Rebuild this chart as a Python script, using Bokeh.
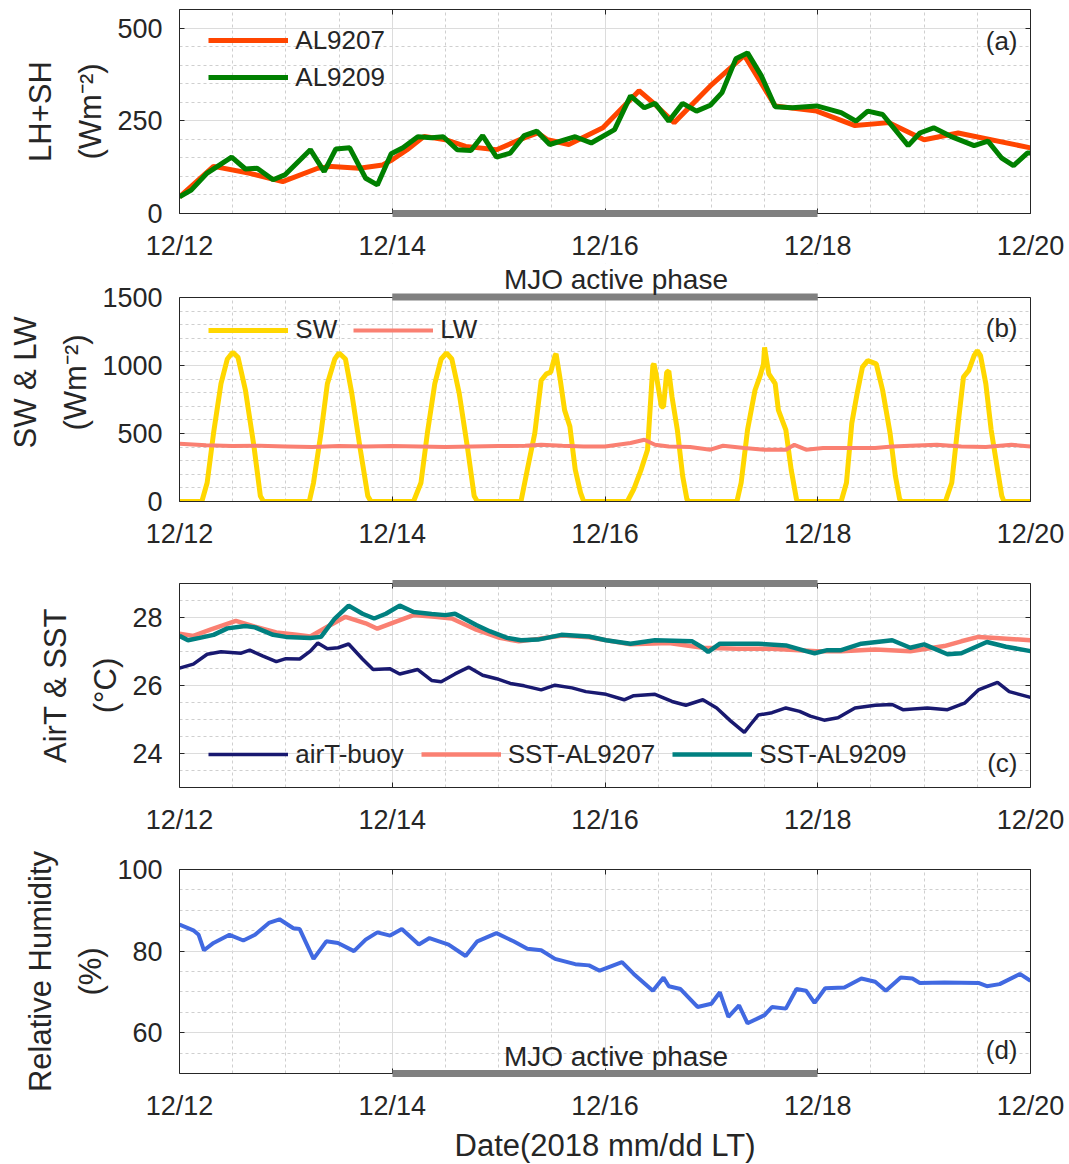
from bokeh.plotting import figure
from bokeh.models import (FixedTicker, LinearAxis, Legend, LegendItem, Label, Range1d,
                          BoxAnnotation, Span)
from bokeh.layouts import column
from bokeh.embed import file_html
from bokeh.resources import INLINE

# ---------------- data (days after 2018-12-12 00:00 LT) ----------------
date_tick_days = [0, 2, 4, 6, 8]
date_tick_labels = ["12/12", "12/14", "12/16", "12/18", "12/20"]
mjo_start_day, mjo_end_day = 2, 6

# (a) LH+SH (W m-2)
al9207_day = [0, 0.32, 0.65, 0.97, 1.30, 1.43, 1.69, 1.91, 2.0, 2.14, 2.30, 2.50, 2.69,
              2.98, 3.24, 3.37, 3.46, 3.66, 3.98, 4.32, 4.47, 4.65, 4.99, 5.31, 5.60,
              5.99, 6.35, 6.67, 7.0, 7.32, 8.0]
al9207_flux = [45, 127, 109, 86, 122, 127, 122, 131, 145, 172, 208, 199, 181,
               172, 204, 217, 199, 186, 231, 331, 294, 245, 344, 426, 290,
               276, 237, 245, 199, 217, 177]
al9209_day = [0, 0.11, 0.26, 0.49, 0.62, 0.73, 0.88, 0.99, 1.23, 1.36, 1.47, 1.60, 1.75,
              1.86, 1.99, 2.10, 2.24, 2.37, 2.48, 2.61, 2.74, 2.85, 2.98, 3.11, 3.24,
              3.36, 3.48, 3.72, 3.87, 4.09, 4.24, 4.37, 4.47, 4.60, 4.73, 4.86, 4.99,
              5.10, 5.23, 5.34, 5.47, 5.60, 5.76, 5.99, 6.22, 6.36, 6.47, 6.61, 6.85,
              6.96, 7.09, 7.25, 7.47, 7.60, 7.73, 7.84, 7.97, 8.0]
al9209_flux = [45, 63, 109, 152, 120, 122, 91, 104, 172, 113, 174, 177, 95,
               77, 161, 177, 207, 204, 207, 172, 170, 210, 152, 163, 210,
               222, 186, 207, 190, 226, 317, 285, 297, 249, 297, 276, 292,
               326, 417, 433, 371, 288, 285, 290, 272, 249, 276, 267, 183,
               217, 231, 208, 183, 195, 149, 129, 163, 163]

# (b) shortwave and longwave (W m-2)
sw_day = [0, 0.21, 0.26, 0.32, 0.39, 0.45, 0.50, 0.55, 0.62, 0.70, 0.76, 0.79,
          1.22, 1.26, 1.33, 1.39, 1.46, 1.50, 1.56, 1.62, 1.70, 1.77, 1.80,
          2.20, 2.27, 2.33, 2.40, 2.46, 2.51, 2.56, 2.63, 2.71, 2.77, 2.80,
          3.21, 3.27, 3.34, 3.40, 3.45, 3.49, 3.53, 3.54, 3.58, 3.62, 3.67, 3.72, 3.77, 3.80,
          4.21, 4.27, 4.34, 4.40, 4.45, 4.46, 4.48, 4.53, 4.55, 4.58, 4.60, 4.63, 4.68, 4.73, 4.77, 4.79,
          5.24, 5.28, 5.34, 5.41, 5.46, 5.49, 5.50, 5.54, 5.60, 5.63, 5.70, 5.75, 5.80, 5.81,
          6.22, 6.27, 6.32, 6.37, 6.42, 6.47, 6.55, 6.61, 6.68, 6.73, 6.77, 6.79,
          7.20, 7.26, 7.32, 7.37, 7.42, 7.47, 7.50, 7.53, 7.58, 7.63, 7.69, 7.73, 7.75, 8.0]
sw_flux = [0, 0, 138, 502, 866, 1048, 1097, 1060, 818, 405, 41, 0,
           0, 138, 502, 866, 1048, 1092, 1048, 794, 381, 41, 0,
           0, 138, 502, 866, 1048, 1092, 1048, 794, 381, 41, 0,
           0, 235, 502, 890, 939, 951, 1073, 1085, 890, 672, 551, 235, 65, 0,
           0, 90, 235, 381, 1000, 1012, 939, 697, 697, 951, 959, 769, 527, 187, 17, 0,
           0, 138, 527, 818, 927, 1012, 1133, 939, 866, 672, 527, 235, 17, 0,
           0, 138, 575, 794, 988, 1036, 1012, 818, 502, 187, 17, 0,
           0, 138, 575, 915, 964, 1073, 1109, 1073, 866, 527, 235, 41, 0, 0]
lw_day = [0, 0.25, 0.5, 0.75, 1.0, 1.25, 1.5, 1.75, 2.0, 2.25, 2.5, 2.75, 3.0, 3.25,
          3.4, 3.6, 3.8, 4.0, 4.24, 4.37, 4.47, 4.60, 4.8, 4.99, 5.11, 5.31, 5.50,
          5.70, 5.78, 5.89, 6.05, 6.37, 6.54, 6.70, 6.87, 7.12, 7.35, 7.58, 7.82, 8.0]
lw_flux = [425, 413, 408, 410, 405, 400, 408, 405, 408, 405, 400, 405, 408, 410,
           418, 410, 405, 405, 430, 454, 417, 405, 400, 381, 410, 393, 381,
           381, 417, 381, 393, 393, 393, 405, 410, 417, 405, 400, 417, 405]

# (c) air temperature and SST (deg C)
airt_day = [0, 0.13, 0.26, 0.39, 0.58, 0.66, 0.78, 0.91, 1.00, 1.13, 1.23, 1.30, 1.39,
            1.49, 1.59, 1.72, 1.82, 1.98, 2.07, 2.24, 2.37, 2.46, 2.59, 2.72, 2.85,
            2.98, 3.11, 3.24, 3.40, 3.53, 3.69, 3.82, 4.01, 4.18, 4.27, 4.47, 4.63,
            4.76, 4.92, 5.05, 5.18, 5.31, 5.37, 5.44, 5.57, 5.70, 5.83, 5.93, 6.06,
            6.19, 6.35, 6.54, 6.70, 6.80, 7.03, 7.22, 7.38, 7.51, 7.69, 7.80, 8.0]
airt_temp = [26.51, 26.63, 26.92, 26.99, 26.95, 27.04, 26.87, 26.70, 26.79, 26.78, 27.01, 27.25, 27.08,
             27.11, 27.22, 26.78, 26.47, 26.49, 26.34, 26.47, 26.15, 26.11, 26.34, 26.54, 26.30,
             26.20, 26.06, 25.99, 25.87, 26.01, 25.93, 25.82, 25.74, 25.58, 25.70, 25.74, 25.53,
             25.42, 25.58, 25.34, 24.96, 24.62, 24.86, 25.13, 25.20, 25.34, 25.24, 25.10, 24.98,
             25.05, 25.34, 25.42, 25.44, 25.29, 25.34, 25.29, 25.48, 25.87, 26.09, 25.82, 25.65]
sst9207_day = [0, 0.13, 0.29, 0.53, 0.71, 0.91, 1.10, 1.23, 1.39, 1.56, 1.75, 1.86, 2.01,
               2.20, 2.40, 2.56, 2.79, 3.01, 3.19, 3.37, 3.6, 3.85, 4.24, 4.60, 4.92,
               5.24, 5.57, 5.99, 6.22, 6.54, 6.87, 7.19, 7.35, 7.51, 7.67, 8.0]
sst9207_temp = [27.52, 27.46, 27.64, 27.90, 27.73, 27.56, 27.49, 27.44, 27.73, 28.02, 27.83, 27.67, 27.85,
                28.07, 28.02, 27.97, 27.64, 27.40, 27.30, 27.37, 27.47, 27.42, 27.21, 27.25, 27.11,
                27.08, 27.08, 27.01, 27.01, 27.06, 27.01, 27.16, 27.30, 27.43, 27.40, 27.33]
sst9209_day = [0, 0.08, 0.19, 0.32, 0.45, 0.62, 0.71, 0.88, 1.00, 1.23, 1.33, 1.46, 1.59,
               1.72, 1.83, 1.94, 2.07, 2.20, 2.37, 2.50, 2.59, 2.79, 2.92, 3.08, 3.21,
               3.37, 3.59, 3.85, 4.01, 4.24, 4.47, 4.82, 4.92, 4.97, 5.08, 5.44, 5.70,
               5.89, 5.97, 6.09, 6.22, 6.41, 6.70, 6.87, 7.00, 7.22, 7.35, 7.59, 7.77, 8.0]
sst9209_temp = [27.46, 27.33, 27.40, 27.49, 27.68, 27.75, 27.71, 27.49, 27.43, 27.40, 27.43, 27.97, 28.35,
                28.11, 27.97, 28.11, 28.35, 28.16, 28.10, 28.07, 28.11, 27.78, 27.59, 27.40, 27.33,
                27.35, 27.49, 27.44, 27.33, 27.23, 27.33, 27.30, 27.11, 26.99, 27.23, 27.23, 27.18,
                27.01, 26.95, 27.04, 27.04, 27.23, 27.33, 27.11, 27.21, 26.92, 26.95, 27.28, 27.14, 27.01]

# (d) relative humidity (%)
rh_day = [0, 0.13, 0.18, 0.23, 0.32, 0.47, 0.60, 0.71, 0.84, 0.94, 1.07, 1.13, 1.26,
          1.38, 1.49, 1.64, 1.75, 1.86, 1.98, 2.09, 2.25, 2.35, 2.53, 2.69, 2.80,
          2.98, 3.14, 3.27, 3.40, 3.53, 3.72, 3.85, 3.95, 4.16, 4.27, 4.45, 4.55,
          4.60, 4.71, 4.87, 5.00, 5.08, 5.16, 5.26, 5.34, 5.50, 5.57, 5.70, 5.80,
          5.89, 5.97, 6.07, 6.25, 6.41, 6.54, 6.64, 6.78, 6.89, 6.96, 7.19, 7.51,
          7.59, 7.71, 7.90, 8.0]
rh_pct = [86.5, 85.1, 84.0, 80.2, 82.0, 84.0, 82.6, 84.0, 86.9, 87.8, 85.6, 85.4, 78.1,
          82.4, 82.0, 80.0, 82.8, 84.6, 83.8, 85.4, 81.6, 83.2, 81.6, 78.8, 82.4,
          84.4, 82.4, 80.6, 80.2, 78.1, 76.8, 76.5, 75.2, 77.3, 74.4, 70.3, 73.5,
          71.4, 70.7, 66.3, 67.1, 69.9, 63.9, 66.7, 62.3, 64.3, 66.3, 65.9, 70.7,
          70.3, 67.3, 70.9, 71.1, 73.3, 72.5, 70.3, 73.5, 73.3, 72.2, 72.3, 72.2,
          71.4, 71.9, 74.4, 72.7]

# ---------------- styling ----------------
FONT = "Liberation Sans"
INK = "#262626"
TICK_FS = "27px"
YLAB_FS = "31px"
LEG_FS = "26px"
FRAME_W, FRAME_H = 851, 204
x_minor = [i * 0.5 for i in range(17)]


def style_axis(ax, show_labels=True):
    ax.axis_line_color = INK
    ax.axis_line_width = 1
    ax.major_tick_in = 5
    ax.major_tick_out = 0
    ax.major_tick_line_color = INK
    ax.minor_tick_line_color = None
    ax.major_label_text_font = FONT
    if show_labels:
        ax.major_label_text_font_size = TICK_FS
        ax.major_label_text_color = INK
    else:
        ax.major_label_text_font_size = "0px"
        ax.major_label_text_color = None
        ax.major_label_standoff = 0
    ax.axis_label_text_font = FONT
    ax.axis_label_text_font_style = "normal"
    ax.axis_label_text_font_size = YLAB_FS
    ax.axis_label_text_color = INK


def mjo_bar_axis():
    # thick grey axis line restricted to the MJO active period
    bar = LinearAxis(ticker=FixedTicker(ticks=[]), bounds=(mjo_start_day, mjo_end_day),
                     level="overlay")
    style_axis(bar, show_labels=False)
    bar.axis_line_color = "#808080"
    bar.axis_line_width = 7
    bar.major_tick_line_color = None
    return bar


def panel(y_lo, y_hi, y_major, y_minor, lab_outer, lab_inner, bar_side,
          border_top, border_bottom, frame_h=FRAME_H):
    # frame_h > FRAME_H leaves an empty strip above y_hi inside the frame
    view_hi = y_lo + (y_hi - y_lo) * frame_h / FRAME_H
    p = figure(frame_width=FRAME_W, frame_height=frame_h,
               x_range=Range1d(0, 8), y_range=Range1d(y_lo, view_hi),
               output_backend="svg", toolbar_location=None,
               min_border_left=179, min_border_right=39,
               min_border_top=border_top, min_border_bottom=border_bottom,
               background_fill_color="white", border_fill_color="white")
    p.outline_line_color = None
    xt = FixedTicker(ticks=date_tick_days, minor_ticks=x_minor)
    yt = FixedTicker(ticks=y_major, minor_ticks=y_minor)
    xa, ya = p.xaxis[0], p.yaxis[0]
    xa.ticker = xt
    ya.ticker = yt
    ya.bounds = (y_lo, y_hi)
    style_axis(xa)
    style_axis(ya)
    xa.major_label_overrides = {d: s for d, s in zip(date_tick_days, date_tick_labels)}
    xa.major_label_standoff = 13
    ya.major_label_standoff = 13
    ya.axis_label = lab_inner
    ya.axis_label_standoff = 6

    outer = LinearAxis(ticker=FixedTicker(ticks=[]), axis_label=lab_outer, bounds=(y_lo, y_hi))
    style_axis(outer, show_labels=False)
    outer.axis_line_color = None
    outer.major_tick_line_color = None
    outer.axis_label_standoff = 13
    p.add_layout(outer, "left")

    ra = LinearAxis(ticker=yt, bounds=(y_lo, y_hi))
    style_axis(ra, show_labels=False)
    p.add_layout(ra, "right")

    for g in (p.xgrid[0], p.ygrid[0]):
        g.grid_line_color = "#dcdcdc"
        g.grid_line_width = 1
        g.minor_grid_line_color = "#cfcfcf"
        g.minor_grid_line_dash = "3 3"
        g.minor_grid_line_width = 1

    if bar_side == "inner_top":
        # blank strip above the axes box, the box's top edge and the MJO bar on it
        p.add_layout(BoxAnnotation(bottom=y_hi, fill_color="white", fill_alpha=1.0,
                                   line_color=None, level="underlay"))
        p.add_layout(Span(location=y_hi, dimension="width", line_color=INK, line_width=1))
        p.add_layout(BoxAnnotation(left=mjo_start_day, right=mjo_end_day,
                                   bottom=FRAME_H - 3, top=FRAME_H + 4,
                                   bottom_units="screen", top_units="screen",
                                   fill_color="#808080", fill_alpha=1.0, line_color=None))
    else:
        ta = LinearAxis(ticker=xt)
        style_axis(ta, show_labels=False)
        p.add_layout(ta, "above")
        if bar_side == "below":
            p.below = [mjo_bar_axis()] + list(p.below)
        else:
            p.above = [mjo_bar_axis()] + list(p.above)
    return p, xa


def panel_tag(p, text, y):
    p.add_layout(Label(x=838, y=y, x_units="screen", y_units="screen", text=text,
                       text_align="right", text_baseline="middle",
                       text_font=FONT, text_font_size="26px", text_color=INK))


def mjo_caption(p, y):
    p.add_layout(Label(x=4.103, y=y, x_units="data", y_units="screen",
                       text="MJO active phase", text_align="center",
                       text_baseline="middle", text_font=FONT,
                       text_font_size="28px", text_color=INK))


def legend(p, items, loc, orientation, spacing):
    lg = Legend(items=items, location=loc, orientation=orientation,
                glyph_width=80, glyph_height=30, label_height=30,
                label_standoff=7, spacing=spacing, padding=0, margin=0,
                background_fill_alpha=0, border_line_alpha=0,
                label_text_font=FONT, label_text_font_size=LEG_FS,
                label_text_color=INK)
    p.add_layout(lg)


# ---- (a) ----
pa, _ = panel(0, 550, [0, 250, 500], list(range(0, 551, 50)), "LH+SH", "(Wm⁻²)",
              "below", 9, 48)
r1 = pa.line(al9207_day, al9207_flux, line_color="#FF4500", line_width=5)
r2 = pa.line(al9209_day, al9209_flux, line_color="#008000", line_width=5)
legend(pa, [LegendItem(label="AL9207", renderers=[r1]),
            LegendItem(label="AL9209", renderers=[r2])], (29.3, 120.3), "vertical", 6)
panel_tag(pa, "(a)", 173)

# ---- (b) ---- (frame reaches up to the caption strip)
pb, _ = panel(0, 1500, [0, 500, 1000, 1500], list(range(0, 1501, 100)), "SW & LW",
              "(Wm⁻²)", "inner_top", 0, 73, frame_h=238)
r3 = pb.line(sw_day, sw_flux, line_color="#FFD700", line_width=5)
r4 = pb.line(lw_day, lw_flux, line_color="#FA8072", line_width=4)
legend(pb, [LegendItem(label="SW", renderers=[r3]),
            LegendItem(label="LW", renderers=[r4])], (29.3, 155.7), "horizontal", 16)
mjo_caption(pb, 222)
panel_tag(pb, "(b)", 174)

# ---- (c) ----
pc, _ = panel(23, 29, [24, 26, 28], [23 + 0.5 * i for i in range(13)], "AirT & SST",
              "(°C)", "above", 9, 55)
r5 = pc.line(airt_day, airt_temp, line_color="#191970", line_width=3.5)
r6 = pc.line(sst9207_day, sst9207_temp, line_color="#FA8072", line_width=4.5)
r7 = pc.line(sst9209_day, sst9209_temp, line_color="#008080", line_width=4.5)
legend(pc, [LegendItem(label="airT-buoy", renderers=[r5]),
            LegendItem(label="SST-AL9207", renderers=[r6]),
            LegendItem(label="SST-AL9209", renderers=[r7])], (29.3, 17.3), "horizontal", 17)
panel_tag(pc, "(c)", 25)

# ---- (d) ----
pd_, xa_d = panel(50, 100, [60, 80, 100], list(range(50, 101, 5)), "Relative Humidity",
                  "(%)", "below", 27, 93)
pd_.line(rh_day, rh_pct, line_color="#4169E1", line_width=4)
xa_d.axis_label = "Date(2018 mm/dd LT)"
xa_d.axis_label_text_font_size = "31px"
xa_d.axis_label_standoff = 4
mjo_caption(pd_, 17.4)
panel_tag(pd_, "(d)", 24)

layout = column(pa, pb, pc, pd_, spacing=0)
open("out.html", "w").write(file_html(layout, INLINE))
